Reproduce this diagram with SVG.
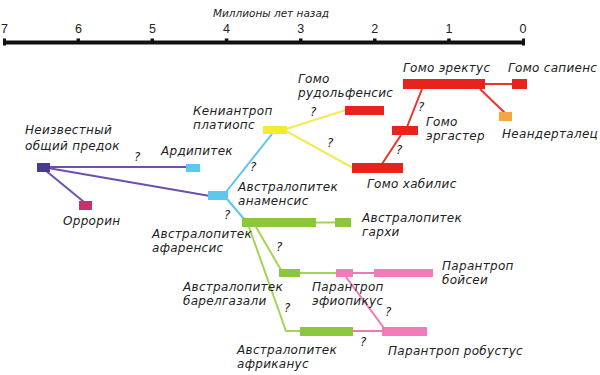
<svg xmlns="http://www.w3.org/2000/svg" width="600" height="375" viewBox="0 0 600 375">
<style>
text{font-family:"DejaVu Sans","Liberation Sans",sans-serif;font-style:italic;font-size:12px;letter-spacing:0.3px;fill:#222}
.num{font-family:"Liberation Sans",Arial,sans-serif;font-style:normal;font-size:12.5px;letter-spacing:0;text-anchor:middle}
.ttl{font-size:10.5px;letter-spacing:0;text-anchor:middle}
.q{font-size:12px}
.ln{fill:none;stroke-width:2}
.pu{stroke:#6f4fae}.cy{stroke:#5cc6ea}.ye{stroke:#f3ea55}.rd{stroke:#e8352a}.gr{stroke:#a4d35a}.pk{stroke:#ee78b6}
.c-pu{fill:#4a3c8c}.c-cy{fill:#5bc8f0}.c-mg{fill:#c8306e}.c-ye{fill:#f5ea30}.c-rd{fill:#e8221c}.c-or{fill:#f4a545}.c-gr{fill:#8cc63f}.c-pk{fill:#f27ab8}
</style>

<g id="axis">
<text class="ttl" x="271" y="17">Миллионы лет назад</text>
<rect x="3" y="40.5" width="522" height="4" fill="#111"/>
<g fill="#111">
<rect x="3" y="38.5" width="3" height="7"/><rect x="76.5" y="38.5" width="3.5" height="3"/><rect x="150.5" y="38.5" width="3.5" height="3"/><rect x="224.8" y="38.5" width="3.5" height="3"/><rect x="299" y="38.5" width="3.5" height="3"/><rect x="373" y="38.5" width="3.5" height="3"/><rect x="447.2" y="38.5" width="3.5" height="3"/><rect x="522" y="38.5" width="3" height="7"/>
</g>
<text class="num" x="4.5" y="33">7</text><text class="num" x="78.4" y="33">6</text><text class="num" x="152.5" y="33">5</text><text class="num" x="226.6" y="33">4</text><text class="num" x="300.7" y="33">3</text><text class="num" x="374.8" y="33">2</text><text class="num" x="448.9" y="33">1</text><text class="num" x="523" y="33">0</text>
</g>

<g id="connectors">
<path class="ln pu" d="M48 167 H187"/>
<path class="ln pu" d="M48 168 L210 196"/>
<path class="ln pu" d="M45 170 L84 202"/>
<path class="ln cy" d="M226 192 L272 134"/>
<path class="ln cy" d="M227 199 L244 219"/>
<path class="ln ye" d="M286 129 L346 110"/>
<path class="ln ye" d="M286 131 L353 168"/>
<path class="ln rd" d="M422 89 L407 127"/>
<path class="ln rd" d="M401 135 L382 164"/>
<path class="ln rd" d="M485 84 H512"/>
<path class="ln rd" d="M480 89 L505 113"/>
<path class="ln gr" d="M316 222.5 H335"/>
<path class="ln gr" d="M256 227 L281 270"/>
<path class="ln gr" d="M300 273 H336"/>
<path class="ln gr" d="M249 227 L286 331 H300"/>
<path class="ln pk" d="M353 273 H374"/>
<path class="ln pk" d="M346 277 L384 328"/>
<path class="ln pk" d="M353 331 H382"/>
</g>

<g id="ancestor"><rect class="c-pu" x="37" y="163" width="13" height="9"/><text x="25" y="134">Неизвестный</text><text x="25" y="150">общий предок</text></g>
<g id="ardipithecus"><rect class="c-cy" x="186" y="164" width="14" height="8"/><text x="161" y="155">Ардипитек</text></g>
<g id="orrorin"><rect class="c-mg" x="79" y="201" width="13" height="9"/><text x="63" y="225">Оррорин</text></g>
<g id="anamensis"><rect class="c-cy" x="208" y="191" width="20" height="9"/><text x="238" y="191">Австралопитек</text><text x="238" y="205">анаменсис</text></g>
<g id="kenyanthropus"><rect class="c-ye" x="263" y="126" width="24" height="8"/><text x="193" y="115">Кениантроп</text><text x="193" y="129">платиопс</text></g>
<g id="rudolfensis"><rect class="c-rd" x="345" y="106" width="39" height="9"/><text x="298" y="83">Гомо</text><text x="298" y="97">рудольфенсис</text></g>
<g id="habilis"><rect class="c-rd" x="352" y="163" width="51" height="10"/><text x="367" y="188">Гомо хабилис</text></g>
<g id="ergaster"><rect class="c-rd" x="392" y="126" width="26" height="9"/><text x="426" y="126">Гомо</text><text x="426" y="140">эргастер</text></g>
<g id="erectus"><rect class="c-rd" x="403" y="79" width="82" height="10"/><text x="403" y="72">Гомо эректус</text></g>
<g id="sapiens"><rect class="c-rd" x="512" y="79" width="15" height="10"/><text x="508" y="72">Гомо сапиенс</text></g>
<g id="neanderthal"><rect class="c-or" x="499" y="112" width="13" height="9"/><text x="502" y="138">Неандерталец</text></g>
<g id="afarensis"><rect class="c-gr" x="242" y="218" width="74" height="9"/><text x="152" y="238">Австралопитек</text><text x="152" y="252">афаренсис</text></g>
<g id="garhi"><rect class="c-gr" x="335" y="218" width="16" height="9"/><text x="362" y="222">Австралопитек</text><text x="362" y="236">гархи</text></g>
<g id="bahrelghazali"><rect class="c-gr" x="279" y="269" width="21" height="8"/><text x="183" y="291">Австралопитек</text><text x="183" y="305">барелгазали</text></g>
<g id="aethiopicus"><rect class="c-pk" x="336" y="269" width="17" height="8"/><text x="312" y="291">Парантроп</text><text x="312" y="305">эфиопикус</text></g>
<g id="boisei"><rect class="c-pk" x="374" y="269" width="59" height="8"/><text x="442" y="270">Парантроп</text><text x="442" y="284">бойсеи</text></g>
<g id="africanus"><rect class="c-gr" x="300" y="327" width="53" height="9"/><text x="237" y="354">Австралопитек</text><text x="237" y="368">африканус</text></g>
<g id="robustus"><rect class="c-pk" x="382" y="327" width="45" height="9"/><text x="388" y="355">Парантроп робустус</text></g>

<g id="question-marks">
<text class="q" x="134" y="161">?</text>
<text class="q" x="250" y="171">?</text>
<text class="q" x="224" y="219">?</text>
<text class="q" x="310" y="116">?</text>
<text class="q" x="327" y="147">?</text>
<text class="q" x="418" y="111">?</text>
<text class="q" x="396" y="154">?</text>
<text class="q" x="276" y="251">?</text>
<text class="q" x="284" y="312">?</text>
<text class="q" x="385" y="316">?</text>
<text class="q" x="360" y="346">?</text>
</g>
</svg>
